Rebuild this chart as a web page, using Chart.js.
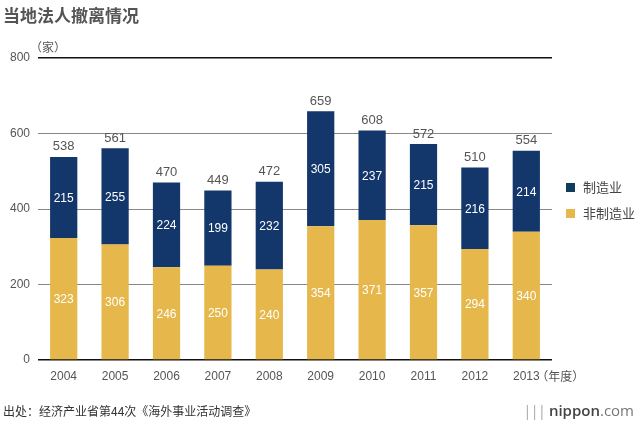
<!DOCTYPE html>
<html>
<head>
<meta charset="utf-8">
<script src="https://cdn.jsdelivr.net/npm/chart.js@4"></script>
<style>
  body { margin: 0; background: #fff; font-family: "Noto Sans CJK SC", "Noto Sans", sans-serif; }
  #wrap { position: relative; width: 640px; height: 424px; overflow: hidden; }
  #chart { position: absolute; left: 0; top: 0; }
  .title { position: absolute; left: 3px; top: 2px; font-size: 17px; font-weight: bold; color: #555; }
  .legend { position: absolute; left: 566px; top: 178px; font-size: 13px; color: #444; }
  .legend div { height: 26px; line-height: 18px; }
  .legend span { display: inline-block; width: 9px; height: 9px; margin-right: 8px; vertical-align: -0px; }
  .source { position: absolute; left: 3px; top: 402px; font-size: 12px; color: #333; }
  .logo { position: absolute; right: 6px; top: 400px; font-size: 15px; color: #777; font-family: "Open Sans", sans-serif; }
  .logo b { color: #444; font-weight: 600; }
</style>
</head>
<body>
<div id="wrap">
  <canvas id="chart" width="640" height="424"></canvas>
  <div class="title">当地法人撤离情况</div>
  <div class="legend">
    <div><span style="background:#103c5e"></span>制造业</div>
    <div><span style="background:#e6b84b"></span>非制造业</div>
  </div>
  <div class="source">出处：经济产业省第44次《海外事业活动调查》</div>
  <div class="logo"><span style="letter-spacing:-1px;color:#aaa">|||</span> <b>nippon</b>.com</div>
</div>
<script>
const years = ['2004', '2005', '2006', '2007', '2008', '2009', '2010', '2011', '2012', '2013'];
const nonManufacturing = [323, 306, 246, 250, 240, 354, 371, 357, 294, 340];
const manufacturing = [215, 255, 224, 199, 232, 305, 237, 215, 216, 214];
const totals = [538, 561, 470, 449, 472, 659, 608, 572, 510, 554];
const yTicks = [0, 200, 400, 600, 800];

// draws values inside segments, totals above, and unit labels
const labelPlugin = {
    id: 'labels',
    afterDatasetsDraw(chart) {
        const c = chart.ctx;
        c.save();
        c.textAlign = 'center';
        c.textBaseline = 'middle';
        c.font = '12px "Liberation Sans", Arial, sans-serif';
        c.fillStyle = '#fff';
        chart.data.datasets.forEach((ds, i) => {
            chart.getDatasetMeta(i).data.forEach((bar, j) => {
                const y = (bar.y + bar.base) / 2;
                c.fillText(ds.data[j], bar.x, y + 1);
            });
        });
        c.fillStyle = '#555';
        c.font = '13px "Liberation Sans", Arial, sans-serif';
        const top = chart.getDatasetMeta(1).data;
        top.forEach((bar, j) => {
            c.fillText(totals[j], bar.x, bar.y - 10);
        });
        c.font = '12px "Noto Sans CJK SC", sans-serif';
        c.textAlign = 'left';
        c.fillText('（家）', 30, 47);
        const xs = chart.scales.x;
        c.fillText('（年度）', xs.getPixelForValue(9) + 10, 376);
        c.restore();
    }
};

const ctx = document.getElementById('chart').getContext('2d');
new Chart(ctx, {
    type: 'bar',
    data: {
        labels: years,
        datasets: [
            {
                label: '非制造业',
                data: nonManufacturing,
                backgroundColor: '#e6b84b',
                categoryPercentage: 1,
                barPercentage: 0.53
            },
            {
                label: '制造业',
                data: manufacturing,
                backgroundColor: '#13366b',
                categoryPercentage: 1,
                barPercentage: 0.53
            }
        ]
    },
    options: {
        responsive: false,
        animation: false,
        layout: { padding: { left: 0, top: 58, right: 88, bottom: 0 } },
        plugins: {
            legend: { display: false },
            tooltip: { enabled: false }
        },
        scales: {
            x: {
                stacked: true,
                grid: { display: false, drawTicks: false },
                border: { display: false },
                ticks: {
                    color: '#555',
                    font: { size: 12, family: '"Liberation Sans", Arial, sans-serif' },
                    padding: 9
                },
                afterFit: s => { s.height = 64; }
            },
            y: {
                stacked: true,
                min: 0,
                max: 800,
                afterBuildTicks: s => { s.ticks = yTicks.map(v => ({ value: v })); },
                grid: {
                    color: ctx => (ctx.tick.value === 0 || ctx.tick.value === 800) ? '#111' : '#888',
                    lineWidth: ctx => (ctx.tick.value === 0 || ctx.tick.value === 800) ? 1.5 : 1,
                    drawTicks: false
                },
                border: { display: false },
                ticks: {
                    color: '#555',
                    font: { size: 12, family: '"Liberation Sans", Arial, sans-serif' },
                    padding: 8
                },
                afterFit: s => { s.width = 38; }
            }
        }
    },
    plugins: [labelPlugin]
});
</script>
</body>
</html>
